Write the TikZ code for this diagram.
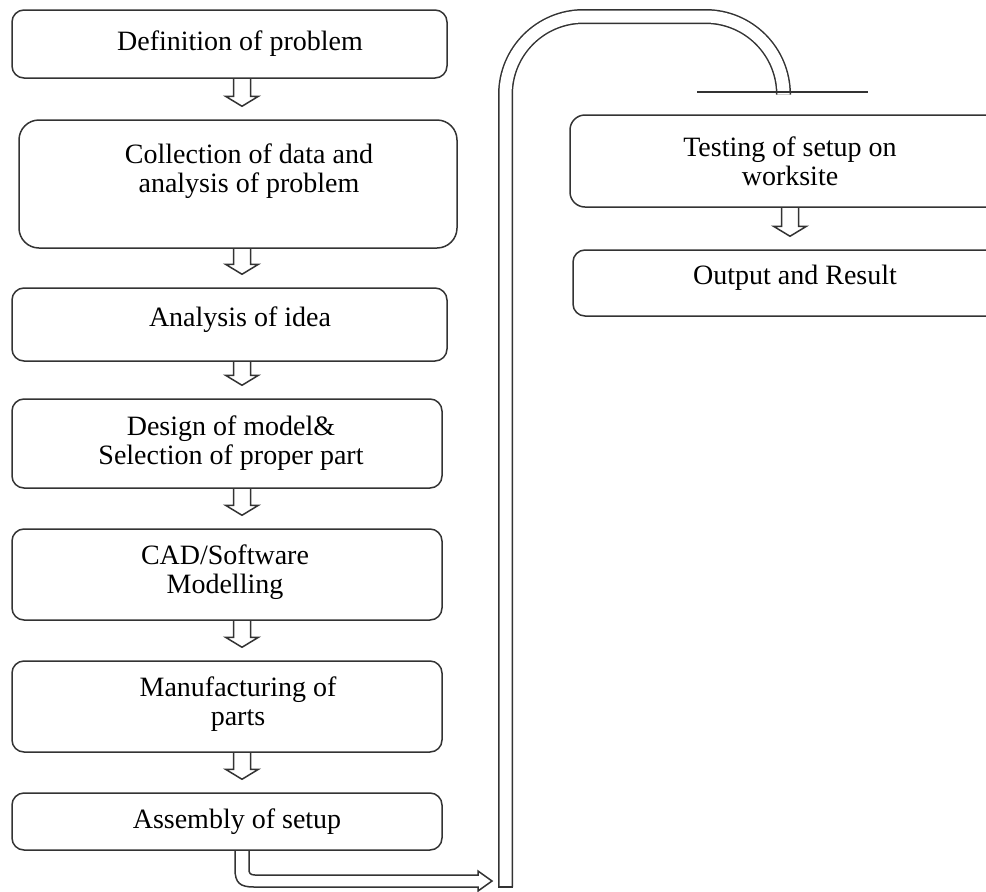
\documentclass[tikz,border=0pt]{standalone}
\usepackage{fontspec}
\setmainfont{Liberation Serif}
\usetikzlibrary{calc}

% hollow down arrow: from box #1 to box #2 on the vertical line through #3
\newcommand{\blockdown}[3]{%
\draw[blockarrow] ($(#1.south -| #3)+(-8.5,0)$) -- ($(#2.north -| #3)+(-8.5,-23)$)
  -- ++(-8,0) -- ($(#2.north -| #3)+(0,-13)$) -- ($(#2.north -| #3)+(16.5,-23)$)
  -- ++(-8,0) -- ($(#1.south -| #3)+(8.5,0)$);}

\begin{document}
\begin{tikzpicture}[x=1pt,y=-1pt,
  box/.style={draw=black!80,line width=1.5pt,rounded corners=12pt,fill=white},
  txt/.style={font=\fontsize{28}{29}\selectfont,align=center,text=black},
  blockarrow/.style={draw=black!80,line width=1.5pt,line join=miter}]
\useasboundingbox (0,0) rectangle (986,892);
\clip (0,0) rectangle (986,892);

\coordinate (lax) at (242,0);
\coordinate (rax) at (790,0);

% left column
\node[box,minimum width=435pt,minimum height=68pt,
  label={[txt,xshift=10.5pt]center:Definition of problem}] (def) at (229.5,44) {};
\node[box,rounded corners=20pt,minimum width=438pt,minimum height=128pt,
  label={[txt,xshift=11pt,yshift=13pt]center:{Collection of data and\\analysis of problem}}] (coll) at (238,184) {};
\node[box,minimum width=435pt,minimum height=73pt,
  label={[txt,xshift=10.5pt,yshift=5pt]center:Analysis of idea}] (idea) at (229.5,324.5) {};
\node[box,minimum width=430pt,minimum height=89pt,
  label={[txt,xshift=4pt]center:{Design of model\&\\Selection of proper part}}] (design) at (227,443.5) {};
\node[box,minimum width=430pt,minimum height=91pt,
  label={[txt,xshift=-2pt,yshift=2pt]center:{CAD/Software\\Modelling}}] (cad) at (227,574.5) {};
\node[box,minimum width=430pt,minimum height=91pt,
  label={[txt,xshift=11pt,yshift=2pt]center:{Manufacturing of\\parts}}] (manu) at (227,706.5) {};
\node[box,minimum width=430pt,minimum height=57pt,
  label={[txt,xshift=10pt]center:Assembly of setup}] (asm) at (227,821.5) {};

% right column
\node[box,rounded corners=15pt,minimum width=444pt,minimum height=92pt,
  label={[txt,xshift=-2pt]center:{Testing of setup on\\worksite}}] (test) at (792,161) {};
\node[box,minimum width=444pt,minimum height=66pt,
  label={[txt,yshift=5pt]center:Output and Result}] (out) at (795,283) {};

\blockdown{def}{coll}{lax}
\blockdown{coll}{idea}{lax}
\blockdown{idea}{design}{lax}
\blockdown{design}{cad}{lax}
\blockdown{cad}{manu}{lax}
\blockdown{manu}{asm}{lax}
\blockdown{test}{out}{rax}

% return tube
\coordinate (tubefoot) at (505.5,887);
\coordinate (tubehead) at (783.5,92);
\coordinate (tubetip) at (492,881);
\draw[draw=black!80,line width=1.5pt,double=white,double distance=12pt,rounded corners=78pt]
  (tubefoot) -- (505.5,16.5) -- (783.5,16.5) -- (tubehead);
\draw[blockarrow] ($(tubefoot)+(-7.5,0)$) -- ($(tubefoot)+(7.5,0)$);
\draw[blockarrow] ($(tubehead)+(-86.5,0)$) -- ($(tubehead)+(84.5,0)$);

\draw[blockarrow] let \p1=(asm.south -| lax), \p2=(tubetip) in
  (\x1-7,\y1) -- (\x1-7,\y2+12) .. controls (\x1-7,\y2-2) and (\x1-2,\y2-6) .. (\x1+12,\y2-6)
  -- (\x2-14,\y2-6) -- (\x2-14,\y2-10) -- (\x2,\y2) -- (\x2-14,\y2+10)
  -- (\x2-14,\y2+6) -- (\x1+13,\y2+6) .. controls (\x1+8,\y2+6) and (\x1+7,\y2+8) .. (\x1+7,\y2+12)
  -- (\x1+7,\y1);

\end{tikzpicture}
\end{document}
